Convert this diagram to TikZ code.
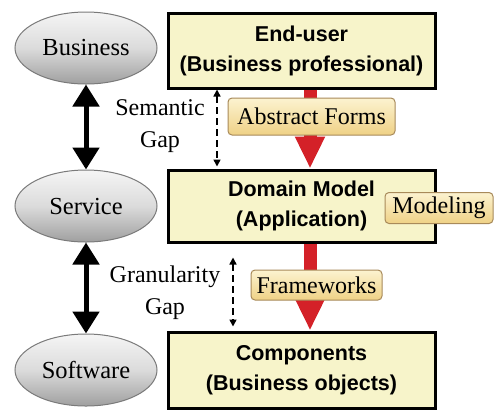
\documentclass[tikz,border=0pt]{standalone}
\usepackage{fontspec}
\setmainfont{Liberation Serif}
\newfontfamily\gothic{Liberation Sans}
\usetikzlibrary{arrows.meta,calc,shapes.geometric}

\definecolor{boxfill}{HTML}{F7F4CA}
\definecolor{tagtop}{HTML}{FCF3D0}
\definecolor{tagbottom}{HTML}{EFD186}
\definecolor{tagline}{HTML}{A88A5A}
\definecolor{flowred}{HTML}{D42128}
\definecolor{ovalrim}{HTML}{7A7A7A}

\tikzset{
  layer/.style={ellipse, draw=ovalrim, line width=1bp,
    top color=gray!8, bottom color=gray!75, middle color=gray!28,
    minimum width=142bp, minimum height=72bp, inner sep=0pt,
    font=\fontsize{24.5bp}{26bp}\selectfont},
  tier/.style={rectangle, draw=black, line width=3bp, fill=boxfill,
    minimum width=267bp, inner sep=0pt, align=center,
    font=\gothic\bfseries\fontsize{21.5bp}{30bp}\selectfont},
  tag/.style={rectangle, rounded corners=4bp, draw=tagline, line width=1bp,
    top color=tagtop, bottom color=tagbottom, inner sep=0pt,
    font=\fontsize{24bp}{26bp}\selectfont},
  gaptext/.style={align=center, inner sep=0pt,
    font=\fontsize{24bp}{32bp}\selectfont},
  flow/.style={draw=flowred, line width=13bp,
    -{Triangle[length=32bp,width=28bp,fill=flowred]}},
  relate/.style={draw=black, line width=5bp,
    {Triangle[length=22bp,width=26bp]}-{Triangle[length=22bp,width=26bp]}},
  gaparrow/.style={draw=black, line width=1.6bp, dash pattern=on 7bp off 4bp,
    {Triangle[length=7bp,width=7bp]}-{Triangle[length=7bp,width=7bp]}}
}

\begin{document}
\begin{tikzpicture}[x=1bp,y=-1bp]
\useasboundingbox[fill=white] (0,0) rectangle (494,410);

% left column: the three layers
\node[layer] (bz) at (86,48)  {Business};
\node[layer] (sv) at (86,206) {Service};
\node[layer] (sw) at (86,370) {Software};

\draw[relate] (bz.south) -- (sv.north);
\draw[relate] (sv.south) -- (sw.north);

% right column: the three tiers
\node[tier, minimum height=75bp] (eu) at (301.5,50.5) {End-user\\(Business professional)};
\node[tier, minimum height=72bp] (dm) at (301.5,206)  {Domain Model\\(Application)};
\node[tier, minimum height=76bp] (cp) at (301.5,370)  {Components\\(Business objects)};

% red flow arrows between tiers
\coordinate (flowx) at (310,0);
\draw[flow] (eu.south -| flowx) -- (dm.north -| flowx);
\draw[flow] (dm.south -| flowx) -- (cp.north -| flowx);

% dashed gap arrows (yshift acts on the page: positive is upward)
\coordinate (gapA) at (217,0);
\coordinate (gapB) at (233,0);
\draw[gaparrow] (eu.south -| gapA) -- ([yshift=2bp]dm.north -| gapA);
\draw[gaparrow] ([yshift=-14bp]dm.south -| gapB) -- ([yshift=4bp]cp.north -| gapB);

% gap labels
\node[gaptext] (sem) at (160,126) {Semantic\\Gap};
\node[gaptext] (gra) at (165,293) {Granularity\\Gap};

% technique tags
\node[tag, minimum width=167bp, minimum height=37bp] (af) at (311.5,116.5) {Abstract Forms};
\node[tag, minimum width=131bp, minimum height=30bp] (fw) at (316.5,285) {Frameworks};
\node[tag, minimum width=108bp, minimum height=31bp] (mo) at (439,208) {Modeling};
\end{tikzpicture}
\end{document}
